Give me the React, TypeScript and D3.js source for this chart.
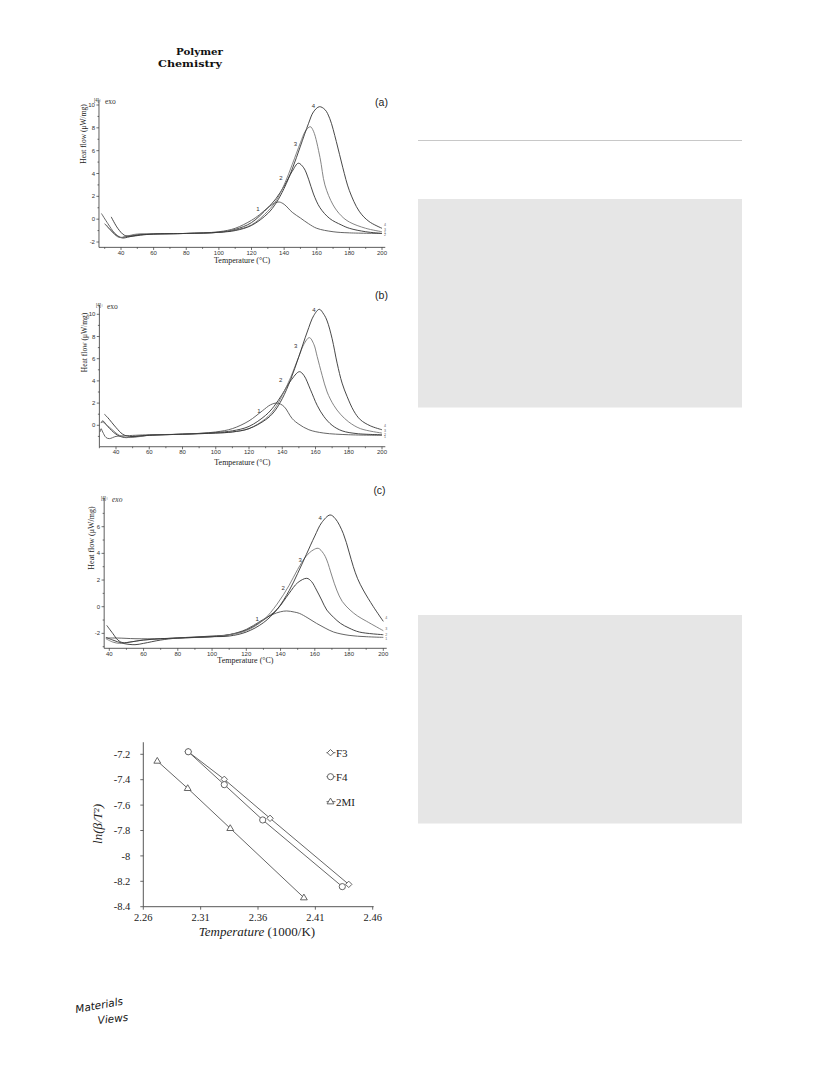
import React from 'react';
import * as d3 from 'd3';

type P = [number, number];

// ---------- DSC panels: tick values ----------
const dscXTicks = [40, 60, 80, 100, 120, 140, 160, 180, 200];
const aYTicks = [-2, 0, 2, 4, 6, 8, 10];
const bYTicks = [0, 2, 4, 6, 8, 10];
const cYTicks = [-2, 0, 2, 4, 6];
const curveNames = ['1', '2', '3', '4'];

// ---------- panel (a) curves [T (°C), heat flow] ----------
const a1: P[] = [[28, 0.5], [32, -0.4], [36, -1.2], [40, -1.6], [44, -1.5], [50, -1.35], [60, -1.3], [80, -1.25], [100, -1.1], [110, -0.8], [120, -0.1], [125, 0.4], [130, 1.0], [134, 1.4], [137, 1.5], [140, 1.3], [145, 0.6], [150, 0.1], [155, -0.4], [160, -0.8], [170, -1.1], [180, -1.2], [200, -1.25]];
const a2: P[] = [[30, -0.4], [34, -1.0], [38, -1.5], [41, -1.65], [45, -1.55], [50, -1.4], [60, -1.3], [80, -1.25], [100, -1.15], [110, -0.9], [120, -0.3], [130, 1.0], [135, 1.8], [140, 2.9], [145, 4.2], [148.7, 4.9], [152, 4.5], [155, 3.5], [158, 2.2], [162, 1.0], [168, 0.05], [175, -0.5], [180, -0.8], [190, -1.1], [200, -1.25]];
const a3: P[] = [[31, -0.5], [35, -1.2], [39, -1.6], [43, -1.5], [50, -1.3], [60, -1.3], [80, -1.25], [100, -1.15], [110, -0.95], [120, -0.5], [130, 0.7], [135, 1.6], [140, 3.0], [145, 4.8], [150, 6.7], [153, 7.7], [156, 8.1], [158, 7.7], [162, 5.4], [165, 3.0], [170, 1.25], [175, 0.3], [180, -0.25], [190, -0.8], [200, -1.1]];
const a4: P[] = [[34, 0.2], [38, -0.8], [42, -1.4], [46, -1.5], [52, -1.4], [60, -1.3], [80, -1.25], [100, -1.15], [110, -1.0], [120, -0.55], [130, 0.5], [135, 1.4], [140, 2.7], [145, 4.4], [150, 6.4], [155, 8.4], [158, 9.4], [161.6, 9.85], [165, 9.6], [168, 8.8], [172, 6.8], [176, 4.5], [180, 2.5], [186, 0.7], [192, -0.2], [200, -0.8]];

// ---------- panel (b) curves ----------
const b1: P[] = [[30.5, -0.6], [31, -0.3], [32, -0.6], [34, -1.1], [36, -1.2], [40, -1.0], [45, -0.95], [60, -0.85], [80, -0.8], [100, -0.6], [110, -0.3], [120, 0.4], [128, 1.3], [133, 1.85], [137, 2.0], [141, 1.7], [146, 0.6], [150, 0.1], [156, -0.4], [165, -0.7], [180, -0.85], [200, -0.9]];
const b2: P[] = [[31, 0.2], [32, 0.4], [35, -0.1], [40, -0.8], [45, -1.1], [50, -1.05], [60, -0.9], [80, -0.8], [100, -0.65], [110, -0.5], [120, -0.1], [130, 0.9], [135, 1.7], [140, 2.8], [145, 4.0], [150.3, 4.83], [153, 4.5], [157, 3.2], [161, 1.8], [165, 0.8], [170, 0.0], [176, -0.5], [185, -0.75], [200, -0.85]];
const b3: P[] = [[31.5, 0.3], [33, 0.2], [37, -0.3], [42, -0.9], [47, -1.1], [55, -1.0], [60, -0.9], [80, -0.8], [100, -0.7], [110, -0.6], [120, -0.3], [130, 0.6], [135, 1.4], [140, 2.7], [145, 4.3], [150, 6.2], [153, 7.3], [156.3, 7.9], [159, 7.3], [161, 6.2], [164, 4.5], [167, 3.0], [171, 1.8], [175, 1.0], [180, 0.3], [187, -0.3], [200, -0.7]];
const b4: P[] = [[33, 1.0], [35, 0.7], [40, -0.2], [44, -0.8], [48, -1.0], [55, -0.95], [60, -0.9], [80, -0.8], [100, -0.7], [110, -0.6], [120, -0.3], [130, 0.5], [135, 1.2], [140, 2.4], [145, 4.1], [150, 6.2], [155, 8.4], [159, 9.9], [162.3, 10.45], [165, 10.0], [167, 9.4], [170, 7.8], [173, 5.6], [176, 3.8], [179, 2.6], [183, 1.3], [187, 0.5], [193, -0.05], [200, -0.4]];

// ---------- panel (c) curves ----------
const c1: P[] = [[38, -2.35], [45, -2.35], [55, -2.4], [70, -2.4], [80, -2.35], [100, -2.25], [110, -2.1], [120, -1.7], [128, -1.1], [135, -0.6], [140, -0.38], [143.6, -0.32], [148, -0.4], [151, -0.5], [156, -0.85], [161, -1.25], [166, -1.6], [171, -1.9], [180, -2.15], [190, -2.25], [200, -2.3]];
const c2: P[] = [[38, -2.3], [42, -2.5], [48, -2.75], [55, -2.85], [60, -2.75], [70, -2.5], [80, -2.35], [100, -2.2], [110, -2.1], [120, -1.75], [130, -1.0], [138, -0.2], [145, 1.0], [150, 1.8], [155.3, 2.13], [158, 1.9], [161, 1.25], [164, 0.5], [167, -0.25], [171, -0.8], [175, -1.25], [180, -1.6], [186, -1.9], [200, -2.1]];
const c3: P[] = [[38, -2.4], [42, -2.65], [46, -2.75], [50, -2.7], [60, -2.5], [80, -2.35], [100, -2.25], [110, -2.1], [120, -1.8], [130, -1.0], [138, 0.2], [145, 1.6], [150, 2.8], [155, 3.8], [159, 4.25], [162, 4.38], [165, 4.0], [167, 3.5], [170, 2.3], [172.8, 1.25], [176, 0.4], [180.6, -0.25], [185, -0.7], [190.3, -1.1], [200, -1.8]];
const c4: P[] = [[38.5, -1.4], [42, -2.0], [45, -2.5], [48, -2.7], [52, -2.65], [60, -2.5], [70, -2.4], [80, -2.35], [100, -2.25], [110, -2.2], [120, -1.9], [130, -1.2], [138, -0.2], [145, 1.2], [150, 2.5], [155, 3.9], [160, 5.3], [164, 6.3], [168.9, 6.88], [172, 6.6], [176.6, 5.5], [180, 4.1], [182.5, 3.0], [185, 2.1], [188.3, 1.25], [194.2, 0.0], [200, -1.1]];

// ---------- curve label anchors [T, value] (text baseline) ----------
const aLabels: P[] = [[124, 0.72], [138, 3.4], [147, 6.4], [158, 9.7]];
const bLabels: P[] = [[126, 1.1], [139, 3.9], [148, 7.0], [159, 10.25]];
const cLabels: P[] = [[126.4, -1.04], [141.6, 1.25], [151.4, 3.35], [163.2, 6.54]];

// ---------- Kissinger plot ----------
const kissXTicks = [2.26, 2.31, 2.36, 2.41, 2.46];
const kissYTicks = [-7.2, -7.4, -7.6, -7.8, -8, -8.2, -8.4];
const seriesNames = ['F3', 'F4', '2MI'];
const f3X = [2.2992, 2.3306, 2.3705, 2.4391];
const f3Y = [-7.18, -7.397, -7.704, -8.224];
const f4X = [2.2992, 2.3306, 2.3641, 2.4335];
const f4Y = [-7.18, -7.439, -7.717, -8.242];
const mi2X = [2.2722, 2.2987, 2.3358, 2.4000];
const mi2Y = [-7.253, -7.468, -7.783, -8.329];

const SANS = '"Liberation Sans", Arial, sans-serif';
const SERIF = '"Liberation Serif", "Times New Roman", serif';

interface PanelCfg {
  xr: [number, number];
  yDom: [number, number];
  yr: [number, number];
  xAxisMin: number;
  xAxisMax: number;
  yAxisMin: number;
  yAxisMax: number;
  yTicks: number[];
  curves: P[][];
  labels: P[];
  tag: string;
  tagPos: [number, number];
  exoPos: [number, number];
  exoItalic?: boolean;
  yTitlePos: [number, number];
  yTitleSize: number;
  xTitleY: number;
  strokes: string[];
}

function DscPanel({ cfg }: { cfg: PanelCfg }) {
  const x = d3.scaleLinear().domain([40, 200]).range(cfg.xr);
  const y = d3.scaleLinear().domain(cfg.yDom).range(cfg.yr);
  const line = d3
    .line<P>()
    .x((d) => x(d[0]))
    .y((d) => y(d[1]))
    .curve(d3.curveCatmullRom.alpha(0.5));
  const ax0 = x(cfg.xAxisMin);
  const ax1 = x(cfg.xAxisMax);
  const ay0 = y(cfg.yAxisMin);
  const ay1 = y(cfg.yAxisMax);
  const xMinor = d3.range(30, 201, 10).filter((t) => t >= cfg.xAxisMin && t <= cfg.xAxisMax);
  const yMinor = d3
    .range(Math.ceil(cfg.yAxisMin), Math.floor(cfg.yAxisMax) + 1, 1)
    .filter((v) => !cfg.yTicks.includes(v));
  const ends = cfg.curves
    .map((c, i) => ({ i, v: c[c.length - 1][1] }))
    .sort((p, q) => q.v - p.v);
  return (
    <g>
      <line x1={ax0} x2={ax1} y1={ay0} y2={ay0} stroke="#333" strokeWidth={0.8} />
      <line x1={ax0} x2={ax0} y1={ay0} y2={ay1} stroke="#333" strokeWidth={0.8} />
      {xMinor.map((t) => (
        <line key={'xm' + t} x1={x(t)} x2={x(t)} y1={ay0} y2={ay0 + (t % 20 === 0 ? 2.6 : 1.5)} stroke="#333" strokeWidth={0.7} />
      ))}
      {dscXTicks.map((t) => (
        <text key={'xl' + t} x={x(t)} y={ay0 + 7.6} fontSize={6} fontFamily={SANS} fill="#333" textAnchor="middle">
          {t}
        </text>
      ))}
      {cfg.yTicks.map((v) => (
        <g key={'yt' + v}>
          <line x1={ax0 - 2.6} x2={ax0} y1={y(v)} y2={y(v)} stroke="#333" strokeWidth={0.7} />
          <text x={ax0 - 4} y={y(v) + 2.1} fontSize={6} fontFamily={SANS} fill="#333" textAnchor="end">
            {v}
          </text>
        </g>
      ))}
      {yMinor.map((v) => (
        <line key={'ym' + v} x1={ax0 - 1.5} x2={ax0} y1={y(v)} y2={y(v)} stroke="#333" strokeWidth={0.7} />
      ))}
      {cfg.curves.map((c, i) => (
        <path key={'c' + i} d={line(c) || ''} fill="none" stroke={cfg.strokes[i]} strokeWidth={0.9} />
      ))}
      {ends.map((e, k) => (
        <text
          key={'end' + e.i}
          x={x(200) + 2}
          y={y(cfg.curves[e.i][cfg.curves[e.i].length - 1][1]) + (k - 1.5) * 1.6}
          fontSize={3.6}
          fontFamily={SANS}
          fill="#666"
        >
          {curveNames[e.i]}
        </text>
      ))}
      {cfg.labels.map((p, i) => (
        <text key={'lb' + i} x={x(p[0])} y={y(p[1])} fontSize={6} fontFamily={SANS} fill="#333" textAnchor="middle">
          {curveNames[i]}
        </text>
      ))}
      <text x={(x(cfg.xAxisMin) + x(cfg.xAxisMax)) / 2} y={cfg.xTitleY} fontSize={8} fontFamily={SERIF} fill="#222" textAnchor="middle">
        Temperature (°C)
      </text>
      <text
        transform={`translate(${cfg.yTitlePos[0]},${cfg.yTitlePos[1]}) rotate(-90)`}
        fontSize={cfg.yTitleSize}
        fontFamily={SERIF}
        fill="#222"
        textAnchor="middle"
        dominantBaseline="central"
      >
        Heat flow (μW/mg)
      </text>
      <text x={cfg.exoPos[0]} y={cfg.exoPos[1]} fontSize={4.5} fontFamily={SANS} fill="#333">
        [4]↑
      </text>
      <text x={cfg.exoPos[0] + 11} y={cfg.exoPos[1] + 2} fontSize={7.5} fontFamily={SERIF} fontStyle={cfg.exoItalic ? 'italic' : 'normal'} fill="#333">
        exo
      </text>
      <text x={cfg.tagPos[0]} y={cfg.tagPos[1]} fontSize={10.5} fontFamily={SANS} fill="#222" textAnchor="middle" dominantBaseline="central">
        {cfg.tag}
      </text>
    </g>
  );
}

function Marker({ kind, cx, cy }: { kind: number; cx: number; cy: number }) {
  const st = { fill: '#fff', stroke: '#555', strokeWidth: 0.9 };
  if (kind === 0) {
    const r = 3.2;
    return <path d={`M${cx},${cy - r}L${cx + r},${cy}L${cx},${cy + r}L${cx - r},${cy}Z`} {...st} />;
  }
  if (kind === 1) return <circle cx={cx} cy={cy} r={3.1} {...st} />;
  const r = 3.6;
  return <path d={`M${cx},${cy - r}L${cx + r * 0.95},${cy + r * 0.6}L${cx - r * 0.95},${cy + r * 0.6}Z`} {...st} />;
}

function KissingerPlot() {
  const x = d3.scaleLinear().domain([2.26, 2.46]).range([143.3, 372.7]);
  const y = d3.scaleLinear().domain([-8.4, -7.2]).range([906.7, 754.3]);
  const series = [
    { xs: f3X, ys: f3Y },
    { xs: f4X, ys: f4Y },
    { xs: mi2X, ys: mi2Y },
  ];
  const legendY = [752.7, 776.7, 801.7];
  return (
    <g>
      <line x1={x(2.26)} x2={x(2.46) + 1} y1={y(-8.4)} y2={y(-8.4)} stroke="#444" strokeWidth={0.9} />
      <line x1={x(2.26)} x2={x(2.26)} y1={y(-8.4)} y2={y(-7.105)} stroke="#444" strokeWidth={0.9} />
      {kissXTicks.map((t) => (
        <g key={'kx' + t}>
          <line x1={x(t)} x2={x(t)} y1={y(-8.4)} y2={y(-8.4) + 3} stroke="#444" strokeWidth={0.8} />
          <text x={x(t)} y={y(-8.4) + 14} fontSize={10.5} fontFamily={SERIF} fill="#222" textAnchor="middle">
            {t.toFixed(2)}
          </text>
        </g>
      ))}
      {kissYTicks.map((v) => (
        <g key={'ky' + v}>
          <line x1={x(2.26) - 3} x2={x(2.26)} y1={y(v)} y2={y(v)} stroke="#444" strokeWidth={0.8} />
          <text x={x(2.26) - 13} y={y(v) + 3.6} fontSize={10.5} fontFamily={SERIF} fill="#222" textAnchor="end">
            {String(v)}
          </text>
        </g>
      ))}
      {series.map((s, i) => {
        const pts = s.xs.map((xv, j) => [x(xv), y(s.ys[j])] as [number, number]);
        const l = d3.line<[number, number]>()(pts) || '';
        return (
          <g key={'s' + i}>
            <path d={l} fill="none" stroke="#555" strokeWidth={0.9} />
            {pts.map((p, j) => (
              <Marker key={j} kind={i} cx={p[0]} cy={p[1]} />
            ))}
          </g>
        );
      })}
      {seriesNames.map((n, i) => (
        <g key={'lg' + n}>
          <line x1={326.5} x2={335.5} y1={legendY[i]} y2={legendY[i]} stroke="#555" strokeWidth={0.9} />
          <Marker kind={i} cx={330.5} cy={legendY[i]} />
          <text x={336} y={legendY[i] + 3.8} fontSize={11} fontFamily={SERIF} fill="#222">
            {n}
          </text>
        </g>
      ))}
      <text x={257} y={936} fontSize={13} fontFamily={SERIF} fill="#222" textAnchor="middle">
        <tspan fontStyle="italic">Temperature</tspan>
        <tspan> (1000/K)</tspan>
      </text>
      <text
        transform={`translate(102,824) rotate(-90)`}
        fontSize={13}
        fontFamily={SERIF}
        fontStyle="italic"
        fill="#222"
        textAnchor="middle"
      >
        ln(β/T²)
      </text>
    </g>
  );
}

export default function App() {
  const strokes = ['#555', '#333', '#777', '#333'];
  const panelA: PanelCfg = {
    xr: [121, 382],
    yDom: [-2, 10],
    yr: [242, 105],
    xAxisMin: 26.5,
    xAxisMax: 202,
    yAxisMin: -2.47,
    yAxisMax: 10.45,
    yTicks: aYTicks,
    curves: [a1, a2, a3, a4],
    labels: aLabels,
    tag: '(a)',
    tagPos: [381.5, 101.5],
    exoPos: [94, 101.5],
    yTitlePos: [83.3, 134],
    yTitleSize: 7.5,
    xTitleY: 263.2,
    strokes,
  };
  const panelB: PanelCfg = {
    xr: [116, 382],
    yDom: [0, 10],
    yr: [425.3, 314.3],
    xAxisMin: 30,
    xAxisMax: 202,
    yAxisMin: -1.93,
    yAxisMax: 10.84,
    yTicks: bYTicks,
    curves: [b1, b2, b3, b4],
    labels: bLabels,
    tag: '(b)',
    tagPos: [381.5, 295],
    exoPos: [96, 306.5],
    yTitlePos: [84, 342.5],
    yTitleSize: 7.5,
    xTitleY: 465.2,
    strokes,
  };
  const panelC: PanelCfg = {
    xr: [109.3, 383.3],
    yDom: [0, 6],
    yr: [606.7, 526.7],
    xAxisMin: 37,
    xAxisMax: 202,
    yAxisMin: -3.12,
    yAxisMax: 8.15,
    yTicks: cYTicks,
    curves: [c1, c2, c3, c4],
    labels: cLabels,
    tag: '(c)',
    tagPos: [379.5, 490],
    exoPos: [101, 500],
    exoItalic: true,
    yTitlePos: [91.7, 538],
    yTitleSize: 8,
    xTitleY: 663.2,
    strokes,
  };
  return (
    <svg
      width={816}
      height={1079}
      viewBox="0 0 816 1079"
      style={{ position: 'absolute', left: 0, top: 0, background: '#fff' }}
    >
      <rect x={0} y={0} width={816} height={1079} fill="#fff" />
      <text x={223} y={55} fontSize={10} fontWeight="bold" fontFamily='"DejaVu Serif", serif' fill="#111" textAnchor="end" textLength={47} lengthAdjust="spacingAndGlyphs">
        Polymer
      </text>
      <text x={222} y={66.8} fontSize={10} fontWeight="bold" fontFamily='"DejaVu Serif", serif' fill="#111" textAnchor="end" textLength={64} lengthAdjust="spacingAndGlyphs">
        Chemistry
      </text>
      <line x1={418} x2={742} y1={140.5} y2={140.5} stroke="#c8c8c8" strokeWidth={1.2} />
      <rect x={418} y={199} width={324} height={208.5} fill="#e6e6e6" />
      <rect x={418} y={615} width={324} height={208.5} fill="#e6e6e6" />
      <DscPanel cfg={panelA} />
      <DscPanel cfg={panelB} />
      <DscPanel cfg={panelC} />
      <KissingerPlot />
      <text transform="translate(76,1013) rotate(-10)" fontSize={10.5} fontStyle="italic" fontFamily='"DejaVu Sans", sans-serif' fill="#111">
        Materials
      </text>
      <text transform="translate(98,1024) rotate(-6)" fontSize={10.5} fontStyle="italic" fontFamily='"DejaVu Sans", sans-serif' fill="#111">
        Views
      </text>
    </svg>
  );
}
